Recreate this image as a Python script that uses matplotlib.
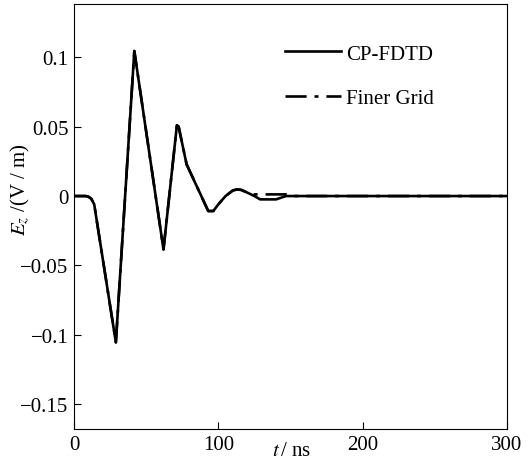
import matplotlib
matplotlib.use("Agg")
from matplotlib import pyplot as plt

plt.rcParams["font.family"] = ["Liberation Serif", "DejaVu Serif"]
plt.rcParams["mathtext.fontset"] = "stix"

# CP-FDTD result
t_cp = [0, 8, 10, 12, 14, 29, 41.8, 62, 71.3, 72.5, 78, 93, 96.5, 100,
        105, 110, 113, 116, 120, 125, 129, 140, 144, 147, 300]
e_cp = [0, 0, -0.0005, -0.002, -0.006, -0.1055, 0.1046, -0.0385, 0.051,
        0.050, 0.0229, -0.0108, -0.0108, -0.006, 0.0, 0.0040, 0.0048,
        0.0044, 0.0025, 0.0, -0.0024, -0.0024, -0.001, 0, 0]

# finer grid reference
t_fine = [0, 8, 10, 12, 14, 29, 41.8, 62, 71.3, 72.5, 78, 93, 96.5, 100,
          105, 110, 113, 116, 120, 124, 147, 150, 300]
e_fine = [0, 0, -0.0005, -0.002, -0.006, -0.1055, 0.1046, -0.0385, 0.051,
          0.050, 0.0229, -0.0108, -0.0108, -0.006, 0.0, 0.0040, 0.0048,
          0.0044, 0.0025, 0.0012, 0.0012, 0, 0]

xticks = [0, 100, 200, 300]
yticks = [-0.15, -0.1, -0.05, 0, 0.05, 0.1]
yticklabels = ["\u22120.15", "\u22120.1", "\u22120.05", "0", "0.05", "0.1"]

fig = plt.figure(figsize=(5.32, 4.6), dpi=100)
ax = fig.add_axes([74 / 532, 30 / 460, 433 / 532, 425 / 460])

ax.plot(t_fine, e_fine, color="black", lw=1.9, dashes=(8, 3, 1.5, 3),
        label="Finer Grid")
ax.plot(t_cp, e_cp, color="black", lw=1.9, label="CP-FDTD")

ax.set_xlim(0, 300)
ax.set_ylim(-0.168, 0.1385)
ax.set_xticks(xticks)
ax.set_xticklabels([str(x) for x in xticks])
ax.set_yticks(yticks)
ax.set_yticklabels(yticklabels)
ax.tick_params(direction="in", length=5, labelsize=15, pad=4)

fig.text(292 / 532, 1 - 452 / 460, "$t\\,$/ ns", ha="center", va="center",
         fontsize=15)
fig.text(20 / 532, 1 - 190 / 460, "$E_z$ /(V / m)", rotation=90,
         ha="center", va="center", fontsize=15)

handles, labels = ax.get_legend_handles_labels()
ax.legend(handles[::-1], labels[::-1], loc="upper left",
          bbox_to_anchor=(0.443, 0.95), frameon=False, fontsize=15,
          handlelength=2.7, handletextpad=0.25, labelspacing=1.2)

fig.savefig("out.png", dpi=100)
